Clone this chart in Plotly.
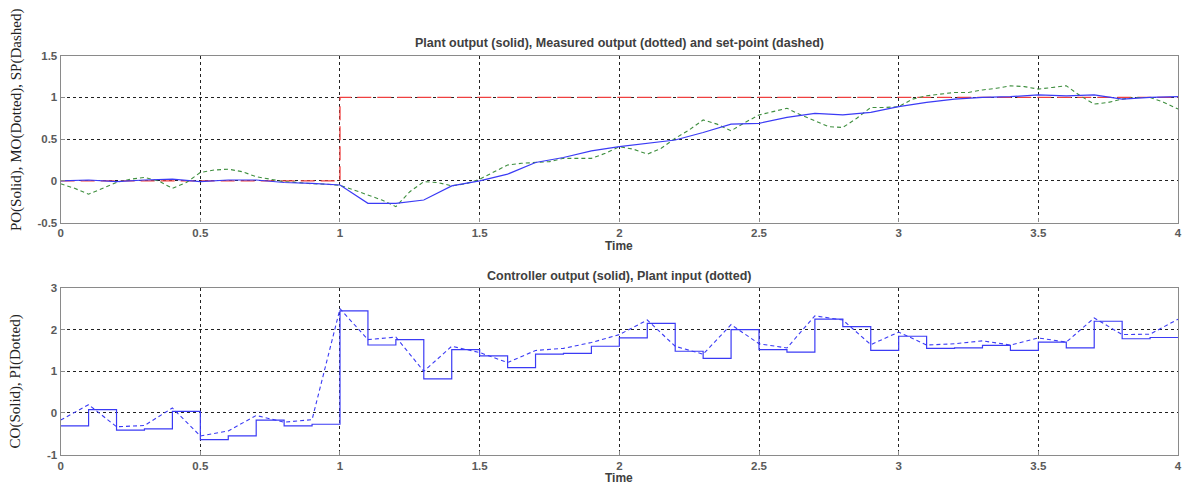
import plotly.graph_objects as go

# ---------------- data ----------------
t_po = [round(0.1 * i, 2) for i in range(41)]
po = [0.0, 0.01, -0.01, 0.01, 0.02, -0.01, 0.01, 0.01, -0.02, -0.03,
      -0.05, -0.27, -0.27, -0.23, -0.06, 0.0, 0.08, 0.22, 0.28, 0.36,
      0.41, 0.45, 0.49, 0.58, 0.68, 0.69, 0.76, 0.81, 0.79, 0.82,
      0.89, 0.94, 0.98, 1.0, 1.01, 1.03, 1.02, 1.03, 0.98, 1.0,
      1.01]

t_mo = [round(0.05 * i, 2) for i in range(81)]
mo = [-0.035, -0.09, -0.16, -0.09, -0.02, 0.02, 0.04, 0.0, -0.09, -0.02,
      0.10, 0.13, 0.14, 0.11, 0.05, 0.02, -0.01, -0.02, -0.035, -0.04,
      -0.055, -0.11, -0.17, -0.23, -0.31, -0.13, -0.01, -0.02, -0.06, -0.035,
      0.02, 0.11, 0.19, 0.21, 0.22, 0.23, 0.27, 0.27, 0.27, 0.33,
      0.41, 0.38, 0.32, 0.39, 0.51, 0.61, 0.73, 0.68, 0.60, 0.70,
      0.79, 0.83, 0.87, 0.79, 0.72, 0.65, 0.64, 0.75, 0.88, 0.88,
      0.89, 0.98, 1.02, 1.04, 1.06, 1.06, 1.09, 1.11, 1.14, 1.13,
      1.10, 1.12, 1.14, 1.02, 0.92, 0.94, 0.98, 1.0, 1.0, 0.94,
      0.86]

t_sp = [0, 1, 1, 4]
sp = [0, 0, 1, 1]

co = [-0.31, 0.08, -0.41, -0.38, 0.04, -0.64, -0.55, -0.17, -0.31, -0.27,
      2.45, 1.63, 1.76, 0.82, 1.52, 1.37, 1.09, 1.41, 1.43, 1.60,
      1.80, 2.15, 1.48, 1.31, 2.00, 1.52, 1.46, 2.25, 2.07, 1.50,
      1.84, 1.55, 1.56, 1.62, 1.50, 1.70, 1.56, 2.20, 1.78, 1.81]

pi_ = [-0.17, 0.20, -0.33, -0.30, 0.12, -0.55, -0.43, -0.06, -0.22, -0.16,
       2.50, 1.76, 1.82, 1.00, 1.60, 1.45, 1.21, 1.50, 1.55, 1.69,
       1.88, 2.23, 1.60, 1.41, 2.12, 1.66, 1.56, 2.33, 2.23, 1.64,
       1.94, 1.63, 1.66, 1.73, 1.63, 1.80, 1.70, 2.28, 1.88, 1.89,
       2.25]

x_ticks = [0, 0.5, 1, 1.5, 2, 2.5, 3, 3.5, 4]
x_ticktext = ["0", "0.5", "1", "1.5", "2", "2.5", "3", "3.5", "4"]
y1_ticks = [-0.5, 0, 0.5, 1, 1.5]
y1_ticktext = ["-0.5", "0", "0.5", "1", "1.5"]
y2_ticks = [-1, 0, 1, 2, 3]
y2_ticktext = ["-1", "0", "1", "2", "3"]

title_top = "Plant output (solid), Measured output (dotted) and set-point (dashed)"
title_bot = "Controller output (solid), Plant input (dotted)"
ylab_top = "PO(Solid), MO(Dotted), SP(Dashed)"
ylab_bot = "CO(Solid), PI(Dotted)"
xlab = "Time"

# ---------------- figure ----------------
W, H = 1186, 488
BLUE = "#3b3bf5"
GREEN = "#3f8f3f"
RED = "#f04040"

fig = go.Figure()
fig.add_trace(go.Scatter(x=t_sp, y=sp, mode="lines", line=dict(color=RED, width=1.3, dash="14px,6px"),
                         xaxis="x", yaxis="y"))
fig.add_trace(go.Scatter(x=t_mo, y=mo, mode="lines", line=dict(color=GREEN, width=1.1, dash="4px,3px"),
                         xaxis="x", yaxis="y"))
fig.add_trace(go.Scatter(x=t_po, y=po, mode="lines", line=dict(color=BLUE, width=1.2),
                         xaxis="x", yaxis="y"))

t_co = [round(0.1 * i, 2) for i in range(len(co))] + [4.0]
co_plot = co + [co[-1]]
fig.add_trace(go.Scatter(x=t_co, y=co_plot, mode="lines", line=dict(color=BLUE, width=1.2, shape="hv"),
                         xaxis="x2", yaxis="y2"))
t_pi = [round(0.1 * i, 2) for i in range(len(pi_))]
fig.add_trace(go.Scatter(x=t_pi, y=pi_, mode="lines", line=dict(color=BLUE, width=1.1, dash="4px,3px"),
                         xaxis="x2", yaxis="y2"))

xd = [58 / W, 1182 / W]
top_dom = [1 - 222 / H, 1 - 51 / H]
bot_dom = [1 - 460 / H, 1 - 289 / H]


def bold(lst):
    return ["<b>" + s + "</b>" for s in lst]


tickfont = dict(family="Liberation Sans, Arial", size=11.5, color="#5a5a5a")
axis_common = dict(showline=True, mirror=True, linecolor="#8a8a8a", linewidth=1.2,
                   showgrid=True, gridcolor="#222222", gridwidth=1, griddash="dot",
                   zeroline=False, ticks="inside", ticklen=4, tickcolor="#8a8a8a",
                   tickfont=tickfont, tickmode="array")

fig.update_layout(
    width=W, height=H,
    margin=dict(l=0, r=0, t=0, b=0),
    paper_bgcolor="white", plot_bgcolor="white",
    showlegend=False,
    xaxis=dict(domain=xd, range=[0, 4], anchor="y", tickvals=x_ticks, ticktext=bold(x_ticktext), **axis_common),
    yaxis=dict(domain=top_dom, range=[-0.5, 1.5], anchor="x", tickvals=y1_ticks, ticktext=bold(y1_ticktext), **axis_common),
    xaxis2=dict(domain=xd, range=[0, 4], anchor="y2", tickvals=x_ticks, ticktext=bold(x_ticktext), **axis_common),
    yaxis2=dict(domain=bot_dom, range=[-1, 3], anchor="x2", tickvals=y2_ticks, ticktext=bold(y2_ticktext), **axis_common),
)

title_font = dict(family="Liberation Sans, Arial", size=12.5, color="#404040")
time_font = dict(family="Liberation Sans, Arial", size=12, color="#404040")
ann = []
ann.append(dict(text="<b>" + title_top + "</b>", x=620 / W, y=1 - 38 / H, xref="paper", yref="paper",
                xanchor="center", yanchor="middle", showarrow=False, font=title_font))
ann.append(dict(text="<b>" + title_bot + "</b>", x=620 / W, y=1 - 277 / H, xref="paper", yref="paper",
                xanchor="center", yanchor="middle", showarrow=False, font=title_font))
ann.append(dict(text="<b>" + xlab + "</b>", x=620 / W, y=1 - 244 / H, xref="paper", yref="paper",
                xanchor="center", yanchor="top", yshift=7, showarrow=False, font=time_font))
ann.append(dict(text="<b>" + xlab + "</b>", x=620 / W, y=1 - 482 / H, xref="paper", yref="paper",
                xanchor="center", yanchor="top", yshift=7, showarrow=False, font=time_font))
ylab_font = dict(family="Liberation Serif, Times New Roman", size=15, color="#222222")
ann.append(dict(text=ylab_top, x=13 / W, y=1 - 116 / H, xref="paper", yref="paper", textangle=-90,
                xanchor="center", yanchor="middle", showarrow=False, font=ylab_font))
ann.append(dict(text=ylab_bot, x=13 / W, y=1 - 385 / H, xref="paper", yref="paper", textangle=-90,
                xanchor="center", yanchor="middle", showarrow=False, font=ylab_font))
fig.update_layout(annotations=ann)

fig.write_html("out.html")
